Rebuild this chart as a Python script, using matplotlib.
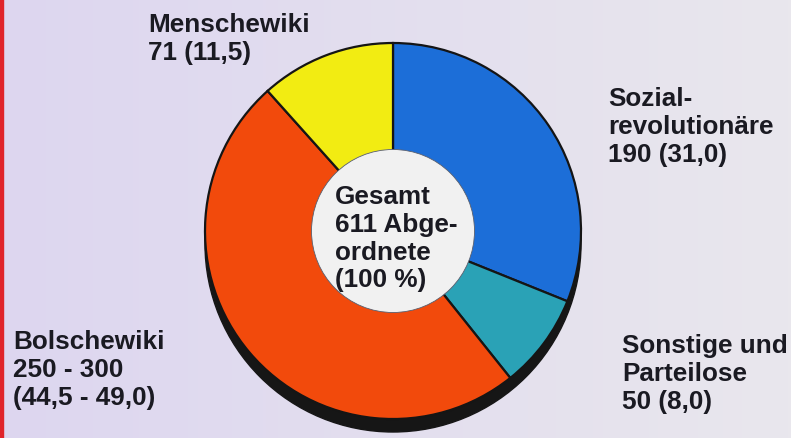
import numpy as np
import matplotlib.pyplot as plt
import matplotlib.patches as patches

# Data (Konstituierende Versammlung 1918, Sitze)
parties = ['Sozialrevolutionäre', 'Sonstige und Parteilose', 'Bolschewiki', 'Menschewiki']
seats = [190, 50, 300, 71]
colors = ['#1c6ed8', '#2aa2b6', '#f24a0c', '#f2ec12']
labels = ['Menschewiki\n71 (11,5)',
          'Sozial-\nrevolutionäre\n190 (31,0)',
          'Sonstige und\nParteilose\n50 (8,0)',
          'Bolschewiki\n250 - 300\n(44,5 - 49,0)']
center_label = 'Gesamt\n611 Abge-\nordnete\n(100 %)'

W, H = 791, 439


def py(y):
    # image-style y (from top) -> axes y
    return H - y


fig = plt.figure(figsize=(W / 100, H / 100), dpi=100)
ax = fig.add_axes([0, 0, 1, 1])

# lavender paper background, a bit paler to the right
grad = np.linspace(0, 1, 256)
c_left = np.array([221, 214, 240]) / 255
c_right = np.array([233, 231, 237]) / 255
bg = c_left[None, :] * (1 - grad[:, None]) + c_right[None, :] * grad[:, None]
ax.imshow(bg[None, :, :], extent=[0, W, 0, H], aspect='auto', zorder=0)
ax.add_patch(patches.Rectangle((0, 0), 2.5, H, color='#e0242a', zorder=1))

cx, cy, r = 393, 232, 188
r_in = 80

# dark rim / shadow under the ring
ax.add_patch(patches.Circle((cx, py(cy + 13)), r, color='#161616', zorder=2))

wedges, _ = ax.pie(seats, colors=colors, startangle=90, counterclock=False,
                   center=(cx, py(cy)), radius=r, frame=True,
                   wedgeprops=dict(width=r - r_in, edgecolor='#151515', linewidth=1.6))
for w in wedges:
    w.set_zorder(3)
ax.set_xlim(0, W)
ax.set_ylim(0, H)
ax.set_aspect('equal')
ax.axis('off')

# hole, covering the inner edge lines
ax.add_patch(patches.Circle((cx, py(cy)), r_in + 1.5, facecolor='#f1f1f1',
                            edgecolor='#5a6070', linewidth=0.6, zorder=4))

txt = dict(ha='left', va='top', fontsize=18.8, fontweight='bold',
           family='Liberation Sans', color='#1a1a22', linespacing=1.2, zorder=5)
positions = [(148, 13), (608, 87), (622, 334), (13, 330)]
for s, (x, y) in zip(labels, positions):
    ax.text(x, py(y), s, **txt)

ax.text(335, py(185), center_label, **txt)

fig.savefig('out.png', dpi=100)
